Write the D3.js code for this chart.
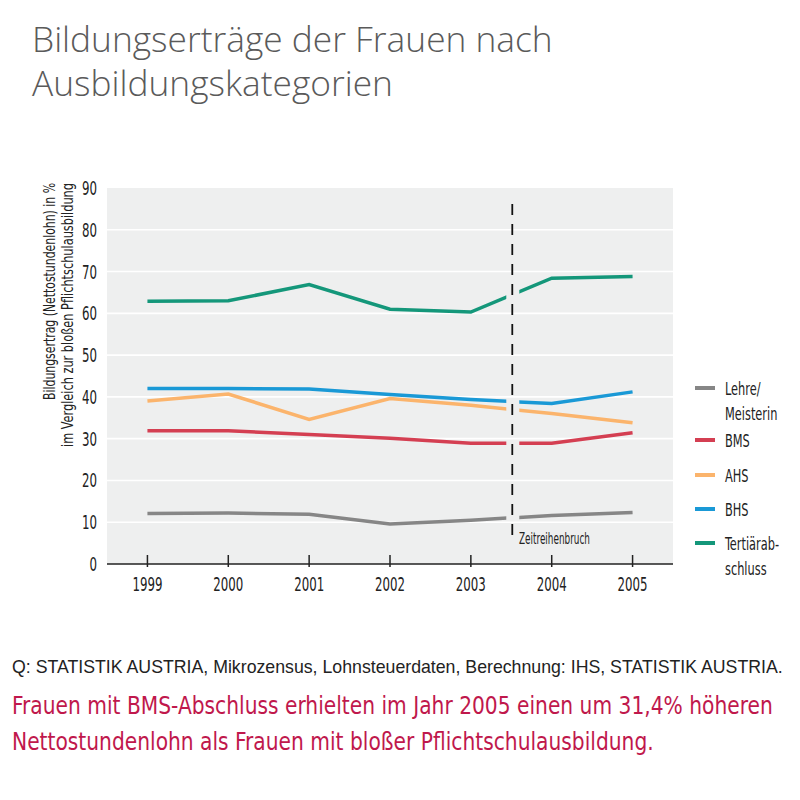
<!DOCTYPE html>
<html><head><meta charset="utf-8">
<script src="https://cdn.jsdelivr.net/npm/d3@7"></script>
<style>body{margin:0;background:#fff} svg{display:block}</style>
</head><body>
<script>
// ---- data ----
const years = [1999, 2000, 2001, 2002, 2003, 2004, 2005];
const seriesNames = ["Lehre/Meisterin", "BMS", "AHS", "BHS", "Tertiärabschluss"];
const legendLines = [["Lehre/", "Meisterin"], ["BMS"], ["AHS"], ["BHS"], ["Tertiärab-", "schluss"]];
const lehre = [12.1, 12.2, 11.9, 9.6, 10.5, 11.6, 12.3];
const bms   = [31.9, 31.9, 31.0, 30.1, 28.9, 28.9, 31.4];
const ahs   = [39.0, 40.7, 34.6, 39.6, 38.0, 36.0, 33.8];
const bhs   = [42.0, 42.0, 41.9, 40.6, 39.4, 38.4, 41.2];
const tert  = [62.9, 63.0, 66.9, 61.0, 60.3, 68.4, 68.8];
const seriesColors = ["#868686", "#d43f52", "#fbb46c", "#1a99d6", "#14977a"];
const yTicks = [0, 10, 20, 30, 40, 50, 60, 70, 80, 90];
const titleLines = ["Bildungserträge der Frauen nach", "Ausbildungskategorien"];
const yTitle = ["Bildungsertrag (Nettostundenlohn) in %", "im Vergleich zur bloßen Pflichtschulausbildung"];
const breakLabel = "Zeitreihenbruch";
const sourceText = "Q: STATISTIK AUSTRIA, Mikrozensus, Lohnsteuerdaten, Berechnung: IHS, STATISTIK AUSTRIA.";
const noteLines = ["Frauen mit BMS-Abschluss erhielten im Jahr 2005 einen um 31,4% höheren",
                   "Nettostundenlohn als Frauen mit bloßer Pflichtschulausbildung."];

const seriesValues = [lehre, bms, ahs, bhs, tert];
const cond = "'DejaVu Sans Condensed', 'DejaVu Sans', sans-serif";

const svg = d3.select("body").append("svg").attr("width", 800).attr("height", 800);

function measure(str, size, family) {
  const t = svg.append("text").attr("font-family", family).attr("font-size", size).text(str);
  const w = t.node().getComputedTextLength();
  t.remove();
  return w;
}
function fitSize(sel, target) {
  sel.attr("font-size", 100);
  const w = sel.node().getComputedTextLength();
  const s = 100 * target / w;
  sel.attr("font-size", s);
  return s;
}
// condensed text: horizontally scaled group
function ctext(parent, x, y, str, size, k, anchor, fill) {
  const g = parent.append("g").attr("transform", `translate(${x},${y}) scale(${k},1)`);
  g.append("text").attr("font-family", cond).attr("font-size", size)
    .attr("text-anchor", anchor || "start").attr("fill", fill || "#222").text(str);
  return g;
}

// ---- title ----
const t1 = svg.append("text").attr("x", 32).attr("y", 52).text(titleLines[0])
  .attr("font-family", "'Open Sans', sans-serif").attr("font-weight", 300).attr("fill", "#5a5a5a");
const ts = fitSize(t1, 521);
svg.append("text").attr("x", 32).attr("y", 96).text(titleLines[1])
  .attr("font-family", "'Open Sans', sans-serif").attr("font-weight", 300).attr("fill", "#5a5a5a")
  .attr("font-size", ts);

// ---- scales ----
const x = d3.scalePoint().domain(years).range([107, 673]).padding(0.5);
const y = d3.scaleLinear().domain([0, 90]).range([564, 188]);

// background
svg.append("rect").attr("x", 107).attr("y", y(90)).attr("width", 673 - 107).attr("height", y(0) - y(90))
  .attr("fill", "#eeefef");

// gridlines
svg.append("g").selectAll("line").data(yTicks.filter(d => d > 0 && d < 90)).join("line")
  .attr("x1", 107).attr("x2", 673).attr("y1", d => y(d)).attr("y2", d => y(d))
  .attr("stroke", "#fff").attr("stroke-width", 1.6);

// tick labels (condensed)
const tickSize = 19;
const kTick = 30 / measure(String(years[0]), tickSize, cond);
const gy = svg.append("g");
yTicks.forEach(v => ctext(gy, 97, y(v) + 7, String(v), tickSize, kTick, "end"));

// x axis
const gxl = svg.append("g");
years.forEach(yr => ctext(gxl, x(yr), y(0) + 27, String(yr), tickSize, kTick, "middle"));
svg.append("line").attr("x1", 107).attr("x2", 673).attr("y1", y(0)).attr("y2", y(0))
  .attr("stroke", "#222").attr("stroke-width", 1.5);
svg.append("g").selectAll("line").data(years).join("line")
  .attr("x1", d => x(d)).attr("x2", d => x(d)).attr("y1", y(0) - 9).attr("y2", y(0) + 3)
  .attr("stroke", "#222").attr("stroke-width", 1.5);

// y title
const yt = svg.append("g");
yt.append("text").attr("transform", "translate(55,183) rotate(-90)").attr("text-anchor", "end")
  .attr("font-family", cond).attr("font-size", 16.5).attr("fill", "#222")
  .attr("textLength", 217).attr("lengthAdjust", "spacingAndGlyphs").text(yTitle[0]);
yt.append("text").attr("transform", "translate(73,183) rotate(-90)").attr("text-anchor", "end")
  .attr("font-family", cond).attr("font-size", 16.5).attr("fill", "#222")
  .attr("textLength", 264).attr("lengthAdjust", "spacingAndGlyphs").text(yTitle[1]);

// break
const bx = (x(2003) + x(2004)) / 2 + 1;
const clip = svg.append("defs").append("clipPath").attr("id", "gapclip");
clip.append("rect").attr("x", 100).attr("y", 150).attr("width", bx - 6 - 100).attr("height", 450);
clip.append("rect").attr("x", bx + 7).attr("y", 150).attr("width", 680 - bx - 7).attr("height", 450);

// lines
const line = d3.line().x((d, i) => x(years[i])).y(d => y(d));
svg.append("g").attr("clip-path", "url(#gapclip)").selectAll("path").data(seriesValues).join("path")
  .attr("d", d => line(d)).attr("fill", "none")
  .attr("stroke", (d, i) => seriesColors[i]).attr("stroke-width", 3.5);

svg.append("line").attr("x1", bx).attr("x2", bx).attr("y1", 204).attr("y2", 538)
  .attr("stroke", "#111").attr("stroke-width", 1.8).attr("stroke-dasharray", "11,9");
const kBreak = 71 / measure(breakLabel, 15, cond);
ctext(svg, 519, 544, breakLabel, 15, kBreak, "start");

// legend
const legY = [388, 440, 475, 509, 543];
const legSize = 18;
const kLeg = 54 / measure(legendLines[4][0], legSize, cond);
const lg = svg.append("g");
seriesNames.forEach((name, i) => {
  lg.append("line").attr("x1", 695).attr("x2", 715).attr("y1", legY[i]).attr("y2", legY[i])
    .attr("stroke", seriesColors[i]).attr("stroke-width", 4);
  legendLines[i].forEach((s, j) => ctext(lg, 725, legY[i] + 7 + j * 25, s, legSize, kLeg, "start"));
});

// source & note
const src = svg.append("text").attr("x", 12).attr("y", 673).attr("font-family", "'Liberation Sans', Arial, sans-serif")
  .attr("fill", "#222").text(sourceText);
fitSize(src, 771);
const noteSize = 24;
const kNote = 761 / measure(noteLines[0], noteSize, cond);
ctext(svg, 12, 714, noteLines[0], noteSize, kNote, "start", "#c0184c");
ctext(svg, 12, 750, noteLines[1], noteSize, kNote, "start", "#c0184c");
</script>
</body></html>
